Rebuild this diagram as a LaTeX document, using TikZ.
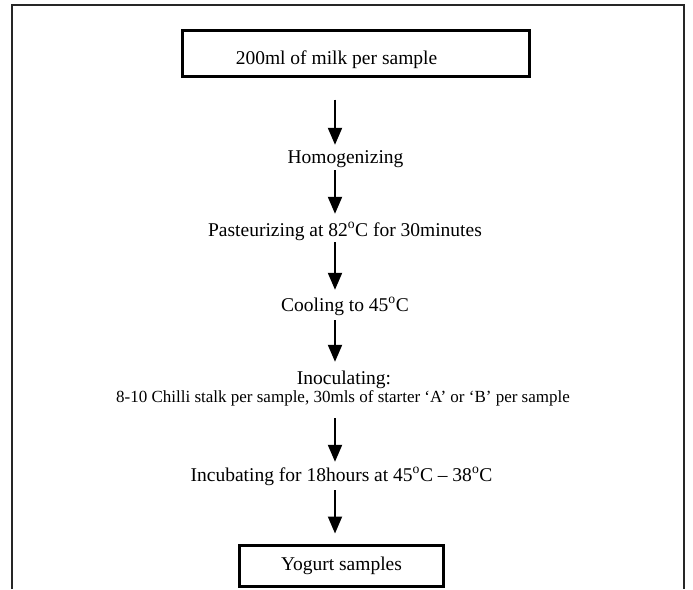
\documentclass[tikz,border=0pt]{standalone}
\usepackage{fontspec}
\setmainfont{Liberation Serif}
\usetikzlibrary{arrows.meta}

\tikzset{
  stage/.style = {inner sep = 0pt, anchor = base, text height = 13.5pt, text depth = 4.5pt,
                  font = \fontsize{19.5}{20}\selectfont},
  stagebox/.style = {draw, line width = 3pt, inner sep = 0pt},
  flow/.style = {-{Triangle[width = 14pt, length = 17pt]}, line width = 2pt}
}

\begin{document}
\begin{tikzpicture}[x = 1pt, y = -1pt]
        \useasboundingbox (0, 0) rectangle (693, 589);
        \draw[line width = 1.2pt, black!85] (12, 589) -- (12, 5) -- (684, 5) -- (684, 589);

        \coordinate (spine) at (335, 0);

        \node[stagebox, minimum width = 347pt, minimum height = 46pt] (milkbox) at (356, 53.5) {};
        \node[stage] (milk) at (336.5, 64.5) {200ml of milk per sample};

        \node[stage] (homog) at (345.5, 163) {Homogenizing};
        \node[stage] (paste) at (345, 236) {Pasteurizing at 82\textsuperscript{o}C for 30minutes};
        \node[stage] (cool) at (345, 311) {Cooling to 45\textsuperscript{o}C};
        \node[stage] (inoc) at (344, 384) {Inoculating:};
        \node[stage, font = \fontsize{17}{18}\selectfont] (inocdetail) at (343, 402)
          {8-10 Chilli stalk per sample, 30mls of starter `A' or `B' per sample};
        \node[stage] (incub) at (341.5, 481) {Incubating for 18hours at 45\textsuperscript{o}C -- 38\textsuperscript{o}C};

        \node[stagebox, font = \fontsize{19.5}{20}\selectfont, text height = 13.5pt, text depth = 4.5pt,
              minimum width = 204pt, minimum height = 41pt] (yogurt) at (341.5, 566) {Yogurt samples};

        \draw[flow, shorten <= 21.5pt, shorten >= 4.5pt] (milkbox.south -| spine) -- (homog.north -| spine);
        \draw[flow, shorten <= 2.5pt, shorten >= 8.5pt] (homog.south -| spine) -- (paste.north -| spine);
        \draw[flow, shorten <= 1.5pt, shorten >= 7.5pt] (paste.south -| spine) -- (cool.north -| spine);
        \draw[flow, shorten <= 4.5pt, shorten >= 8.5pt] (cool.south -| spine) -- (inoc.north -| spine);
        \draw[flow, shorten <= 11.5pt, shorten >= 5.5pt] (inocdetail.south -| spine) -- (incub.north -| spine);
        \draw[flow, shorten <= 4.5pt, shorten >= 10.5pt] (incub.south -| spine) -- (yogurt.north -| spine);
      \end{tikzpicture}
\end{document}
